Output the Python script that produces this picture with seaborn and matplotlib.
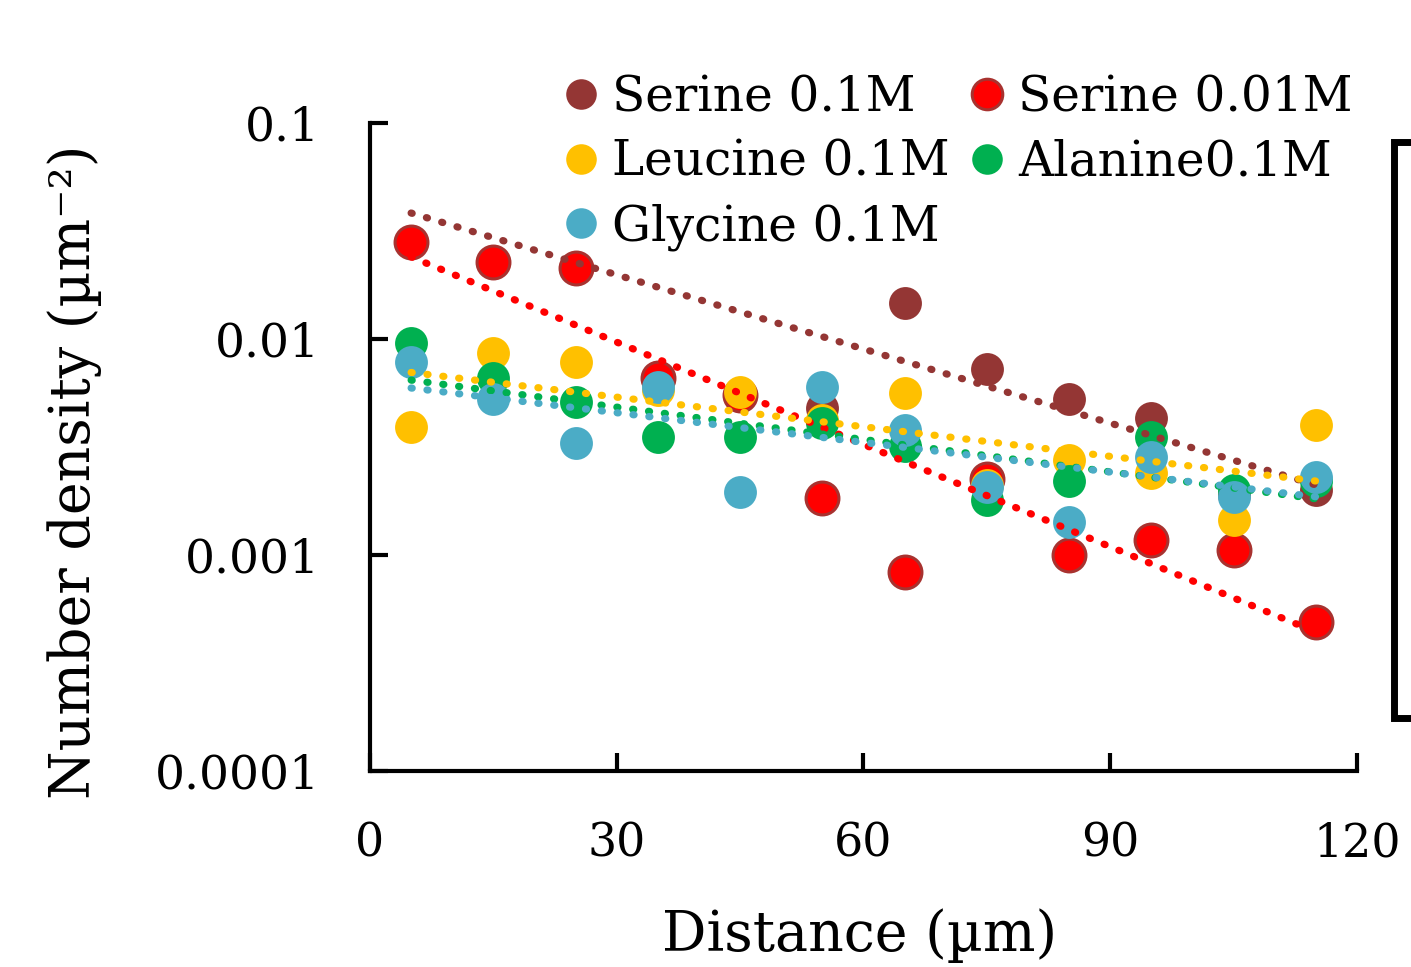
import numpy as np
import pandas as pd
import matplotlib
matplotlib.use("Agg")
import matplotlib.pyplot as plt
from matplotlib.lines import Line2D
import seaborn as sns

# ---------------- data ----------------
distance = [5, 15, 25, 35, 45, 55, 65, 75, 85, 95, 105, 115]
serine_01 = [0.028, 0.0227, 0.0213, 0.0067, 0.0055, 0.0048, 0.0147, 0.0073, 0.0053, 0.0043, 0.0019, 0.0020]
serine_001 = [0.028, 0.0227, 0.0213, 0.0066, 0.0055, 0.00184, 0.00083, 0.00225, 0.0010, 0.00117, 0.00105, 0.00049]
leucine_01 = [0.0039, 0.0086, 0.0078, 0.0058, 0.0057, 0.0042, 0.0056, 0.0021, 0.00275, 0.0024, 0.00145, 0.0040]
alanine_01 = [0.0096, 0.0066, 0.0051, 0.0035, 0.0035, 0.0041, 0.0032, 0.0018, 0.0022, 0.0035, 0.0020, 0.0022]
glycine_01 = [0.0078, 0.0053, 0.0033, 0.0060, 0.00196, 0.0060, 0.0038, 0.00206, 0.00142, 0.00284, 0.00186, 0.0023]

# exponential trend lines (values at first and last distance)
trend_x = [5, 115]
trend_serine_01 = [0.0383, 0.00211]
trend_serine_001 = [0.024, 0.00044]
trend_leucine_01 = [0.0070, 0.0022]
trend_alanine_01 = [0.00645, 0.00182]
trend_glycine_01 = [0.00593, 0.00186]

labels = ["Serine 0.1M", "Serine 0.01M", "Leucine 0.1M", "Alanine0.1M", "Glycine 0.1M"]
colors = ["#943634", "#FF0000", "#FFC000", "#00B050", "#4BACC6"]
y_ticks = [0.0001, 0.001, 0.01, 0.1]
y_tick_labels = ["0.0001", "0.001", "0.01", "0.1"]
x_ticks = [0, 30, 60, 90, 120]
x_tick_labels = ["0", "30", "60", "90", "120"]

# ---------------- style ----------------
sns.set_style("ticks")
plt.rcParams["font.family"] = ["DejaVu Serif"]
plt.rcParams["mathtext.fontset"] = "dejavuserif"
plt.rcParams["text.color"] = "black"
plt.rcParams["axes.labelcolor"] = "black"
plt.rcParams["xtick.color"] = "black"
plt.rcParams["ytick.color"] = "black"

fig = plt.figure(figsize=(14.11, 9.67), dpi=100)
ax = fig.add_axes([370 / 1411, 1 - 771 / 967, (1357 - 370) / 1411, (771 - 123) / 967])

series = [serine_01, serine_001, leucine_01, alanine_01, glycine_01]
trends = [trend_serine_01, trend_serine_001, trend_leucine_01, trend_alanine_01, trend_glycine_01]
edgecolors = ["#943634", "#A8322F", "#FFC000", "#00B050", "#4BACC6"]
edgewidths = [0, 2.2, 0, 0, 0]

handles = {}
for lab, vals, col, ec, ew in zip(labels, series, colors, edgecolors, edgewidths):
    df = pd.DataFrame({"x": distance, "y": vals})
    sns.scatterplot(data=df, x="x", y="y", ax=ax, color=col, s=560,
                    edgecolor=ec, linewidth=ew, zorder=2, legend=False)
    handles[lab] = Line2D([], [], linestyle="none", marker="o", markersize=22,
                          markerfacecolor=col, markeredgecolor=ec,
                          markeredgewidth=ew)

for tr, col in zip(trends, colors):
    tdf = pd.DataFrame({"x": trend_x, "y": tr})
    ax.plot(tdf["x"], tdf["y"], color=col, lw=5.2, linestyle=(0, (0.15, 2.06)),
            dash_capstyle="round", zorder=3)

ax.set_yscale("log")
ax.set_xlim(0, 120)
ax.set_ylim(1e-4, 1e-1)
ax.set_yticks(y_ticks)
ax.set_yticklabels(y_tick_labels)
ax.yaxis.set_minor_locator(matplotlib.ticker.NullLocator())
ax.set_xticks(x_ticks)
ax.set_xticklabels(x_tick_labels)

for side in ["top", "right"]:
    ax.spines[side].set_visible(False)
for side in ["left", "bottom"]:
    ax.spines[side].set_linewidth(3)
    ax.spines[side].set_color("black")

ax.tick_params(axis="both", direction="in", length=13, width=3, labelsize=33,
               pad=36, colors="black")
ax.tick_params(axis="y", labelsize=34)

ax.set_xlabel("Distance (µm)", fontsize=40)
ax.set_ylabel("Number density (µm⁻²)", fontsize=40)
ax.xaxis.set_label_coords(0.496, -0.212)
ax.yaxis.set_label_coords(-0.272, 0.461)

order = ["Serine 0.1M", "Leucine 0.1M", "Glycine 0.1M", "Serine 0.01M", "Alanine0.1M"]
fig.legend([handles[o] for o in order], order, loc="upper left",
           bbox_to_anchor=(525 / 1411, 1 - 50 / 967), ncol=2, frameon=False,
           fontsize=35, handletextpad=0.0, columnspacing=0.1, labelspacing=0.36,
           borderpad=0, handlelength=1.3)

# bracket on the right edge
x0, x1 = 1394 / 1411, 1.02
yt, yb = 1 - 142 / 967, 1 - 718 / 967
fig.add_artist(Line2D([x1, x0, x0, x1], [yt, yt, yb, yb], transform=fig.transFigure,
                      color="black", lw=5, solid_joinstyle="miter"))

fig.savefig("out.png", dpi=100)
